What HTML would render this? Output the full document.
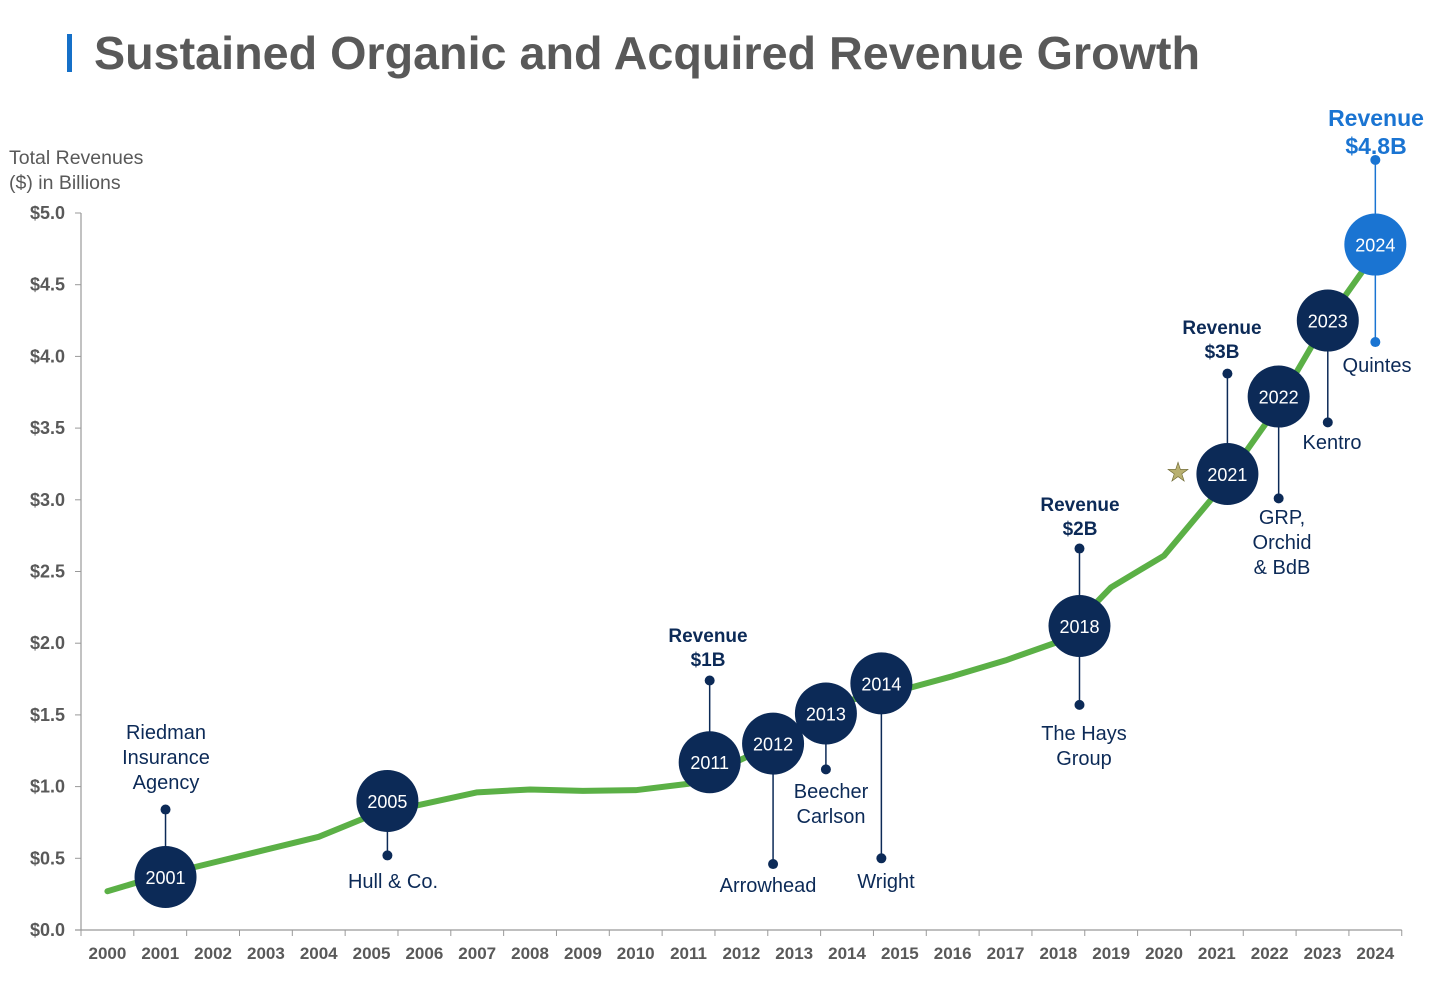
<!DOCTYPE html>
<html><head><meta charset="utf-8"><style>
body{margin:0;background:#fff;width:1456px;height:991px;overflow:hidden;font-family:"Liberation Sans",Arial,sans-serif}
</style></head><body>
<svg width="1456" height="991" xmlns="http://www.w3.org/2000/svg">
<rect x="67" y="34" width="5" height="38" fill="#1570c8"/>
<text x="94" y="69" font-size="46.7" font-weight="bold" fill="#595959">Sustained Organic and Acquired Revenue Growth</text>
<text x="9" y="164" font-size="19.5" fill="#595959">Total Revenues</text>
<text x="9" y="189" font-size="19.5" fill="#595959">($) in Billions</text>
<g id="axes"></g>
<g id="marks"></g>
</svg>
<script>
const years=[2000,2001,2002,2003,2004,2005,2006,2007,2008,2009,2010,2011,2012,2013,2014,2015,2016,2017,2018,2019,2020,2021,2022,2023,2024];
const revenue=[0.27,0.38,0.47,0.56,0.65,0.80,0.88,0.96,0.98,0.97,0.975,1.02,1.19,1.36,1.60,1.67,1.77,1.88,2.01,2.39,2.61,3.05,3.57,4.20,4.72];
const yTicks=[0,0.5,1,1.5,2,2.5,3,3.5,4,4.5,5];
const yTickLabels=["$0.0","$0.5","$1.0","$1.5","$2.0","$2.5","$3.0","$3.5","$4.0","$4.5","$5.0"];
const mLabels=["2001","2005","2011","2012","2013","2014","2018","2021","2022","2023","2024"];
const mYear=[2001.1,2005.3,2011.4,2012.6,2013.6,2014.65,2018.4,2021.2,2022.17,2023.1,2024];
const mValue=[0.37,0.90,1.17,1.30,1.51,1.72,2.12,3.18,3.72,4.25,4.78];
const stemUp=[0.84,null,1.74,null,null,null,2.66,3.88,null,null,5.37];
const stemDown=[null,0.52,null,0.46,1.12,0.50,1.57,null,3.01,3.54,4.10];
const NS="http://www.w3.org/2000/svg";
const x0=81,bw=52.83,yb=930,ppu=143.4;
const X=y=>x0+(y-2000+0.5)*bw;
const Y=v=>yb-v*ppu;
function mk(t,a,p){const e=document.createElementNS(NS,t);for(const k in a)e.setAttribute(k,a[k]);p.appendChild(e);return e;}
const ax=document.getElementById('axes'),mg=document.getElementById('marks');
let e=mk('line',{x1:x0,y1:Y(0),x2:x0,y2:Y(5),stroke:'#999','stroke-width':1.2},ax);

e=mk('line',{x1:x0-6,y1:yb,x2:x0+years.length*bw,y2:yb,stroke:'#999','stroke-width':1.2},ax);

yTicks.forEach((v,i)=>{mk('line',{x1:x0-6,y1:Y(v),x2:x0,y2:Y(v),stroke:'#999'},ax);
 const t=mk('text',{x:65,y:Y(v)+6,'text-anchor':'end','font-size':18,'font-weight':'bold',fill:'#595959'},ax);t.textContent=yTickLabels[i];
 });
years.forEach((yr,i)=>{mk('line',{x1:x0+i*bw,y1:yb,x2:x0+i*bw,y2:yb+6,stroke:'#999'},ax);
 const t=mk('text',{x:X(yr),y:959,'text-anchor':'middle','font-size':17,'font-weight':'bold',fill:'#595959'},ax);t.textContent=yr;
 });
mk('line',{x1:x0+years.length*bw,y1:yb,x2:x0+years.length*bw,y2:yb+6,stroke:'#999'},ax);
const pl=mk('polyline',{points:years.map((y,i)=>X(y)+','+Y(revenue[i])).join(' '),fill:'none',stroke:'#5bb046','stroke-width':6,'stroke-linecap':'round','stroke-linejoin':'round'},mg);

mLabels.forEach((lb,i)=>{const cx=X(mYear[i]),cy=Y(mValue[i]);const col=lb==='2024'?'#1a74d2':'#0c2a57';
 [stemUp[i],stemDown[i]].forEach(s=>{if(s==null)return;mk('line',{x1:cx,y1:cy,x2:cx,y2:Y(s),stroke:col,'stroke-width':1.5},mg);
  const d=mk('circle',{cx:cx,cy:Y(s),r:5,fill:col},mg);});
 const c=mk('circle',{cx:cx,cy:cy,r:31,fill:col},mg);
 const t=mk('text',{x:cx,y:cy+7,'text-anchor':'middle','font-size':18,fill:'#fff'},mg);t.textContent=lb;
 });
const notes=[["Riedman",166,739,0],["Insurance",166,764,0],["Agency",166,789,0],["Hull & Co.",393,888,0],["Arrowhead",768,892,0],["Beecher",831,798,0],["Carlson",831,823,0],["Wright",886,888,0],["The Hays",1084,740,0],["Group",1084,765,0],["GRP,",1282,524,0],["Orchid",1282,549,0],["& BdB",1282,574,0],["Kentro",1332,449,0],["Quintes",1377,372,0],
["Revenue",708,642,1],["$1B",708,666,1],["Revenue",1080,511,1],["$2B",1080,535,1],["Revenue",1222,334,1],["$3B",1222,358,1],["Revenue",1376,126,2],["$4.8B",1376,154,2]];
notes.forEach(n=>{const t=mk('text',{x:n[1],y:n[2],'text-anchor':'middle','font-size':n[3]==2?23:(n[3]?19:20),'font-weight':n[3]?'bold':'normal',fill:n[3]==2?'#1a74d2':'#0c2a57'},mg);t.textContent=n[0];
 });
const st=mk('text',{x:1178,y:481,'text-anchor':'middle','font-size':26,fill:'#b8b070',stroke:'#6b6530','stroke-width':0.6},mg);st.textContent='★';

</script>
</body></html>
